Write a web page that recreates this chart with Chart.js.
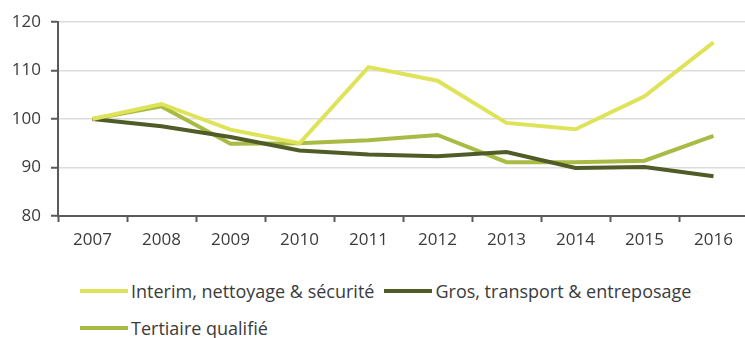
<!DOCTYPE html>
<html lang="fr">
<head>
<meta charset="utf-8">
<title>Indices d'emploi 2007-2016</title>
<script src="https://cdn.jsdelivr.net/npm/chart.js@4.4.1/dist/chart.umd.min.js"></script>
<style>
    html, body {
        margin: 0;
        padding: 0;
        background: #ffffff;
        overflow: hidden;
    }
    .wrap {
        position: relative;
        width: 750px;
        height: 338px;
    }
    .chart-box {
        position: absolute;
        left: 0;
        top: 0;
        width: 750px;
        height: 256px;
    }
    #legende {
        position: absolute;
        left: 80px;
        top: 278px;
        width: 640px;
        display: flex;
        flex-wrap: wrap;
        column-gap: 10px;
        row-gap: 11px;
        font-family: "Open Sans", sans-serif;
        font-size: 18px;
        color: #3b3b3b;
    }
    .leg-item {
        display: flex;
        align-items: center;
        height: 26px;
        white-space: nowrap;
    }
    .leg-line {
        display: inline-block;
        width: 48px;
        height: 4px;
        margin-right: 3px;
    }
</style>
</head>
<body>
<div class="wrap">
    <div class="chart-box"><canvas id="indicesChart"></canvas></div>
    <div id="legende"></div>
</div>

<script>
/* ============ DONNÉES ============ */

const annees = ["2007", "2008", "2009", "2010", "2011", "2012", "2013", "2014", "2015", "2016"];

const interimNettoyage = [100, 103.1, 97.8, 95.0, 110.7, 107.9, 99.2, 97.9, 104.7, 115.8];
const grosTransport = [100, 98.5, 96.3, 93.5, 92.7, 92.3, 93.2, 89.9, 90.1, 88.2];
const tertiaireQualifie = [100, 102.6, 94.9, 95.0, 95.6, 96.7, 91.1, 91.1, 91.4, 96.5];

const seriesNoms = ["Interim, nettoyage & sécurité", "Gros, transport & entreposage", "Tertiaire qualifié"];

const yMin = 80;
const yMax = 120;
const yPas = 10;

/* ============ GRAPHIQUE ============ */

const couleurs = ["#dfe359", "#4f5c28", "#a9ba45"];
const police = "'Open Sans', sans-serif";

function serie(nom, valeurs, couleur) {
    return {
        label: nom,
        data: valeurs,
        borderColor: couleur,
        backgroundColor: couleur,
        borderWidth: 4,
        tension: 0,
        pointRadius: 0,
        pointHoverRadius: 0,
        borderJoinStyle: "miter"
    };
}

const chart = new Chart(document.getElementById("indicesChart"), {
    type: "line",
    data: {
        labels: annees,
        datasets: [
            serie(seriesNoms[0], interimNettoyage, couleurs[0]),
            serie(seriesNoms[1], grosTransport, couleurs[1]),
            serie(seriesNoms[2], tertiaireQualifie, couleurs[2])
        ]
    },
    options: {
        responsive: true,
        maintainAspectRatio: false,
        animation: false,
        layout: { padding: { top: 22, right: 2, left: 0, bottom: 0 } },
        plugins: {
            legend: { display: false },
            tooltip: { enabled: false }
        },
        scales: {
            x: {
                offset: true,
                afterFit: s => { s.height = 40; },
                grid: {
                    offset: true,
                    drawOnChartArea: false,
                    drawTicks: true,
                    tickLength: 6,
                    tickColor: "#5a5a5a",
                    tickWidth: 2
                },
                border: { color: "#5a5a5a", width: 2 },
                ticks: {
                    color: "#3b3b3b",
                    padding: 8,
                    maxRotation: 0,
                    font: { family: police, size: 17 }
                }
            },
            y: {
                min: yMin,
                max: yMax,
                afterFit: s => { s.width = 58; },
                ticks: {
                    stepSize: yPas,
                    color: "#3b3b3b",
                    padding: 10,
                    font: { family: police, size: 17 }
                },
                grid: {
                    color: "#dcdcdc",
                    lineWidth: 1.5,
                    tickLength: 7,
                    tickColor: "#5a5a5a",
                    tickWidth: 2
                },
                border: { color: "#5a5a5a", width: 2 }
            }
        }
    }
});

/* ============ LÉGENDE ============ */

function renderLegende() {
    const contenedor = document.getElementById("legende");
    contenedor.innerHTML = chart.data.datasets.map(ds => `
        <div class="leg-item">
            <span class="leg-line" style="background:${ds.borderColor}"></span>
            <span>${ds.label}</span>
        </div>
    `).join("");
}

renderLegende();
</script>
</body>
</html>
